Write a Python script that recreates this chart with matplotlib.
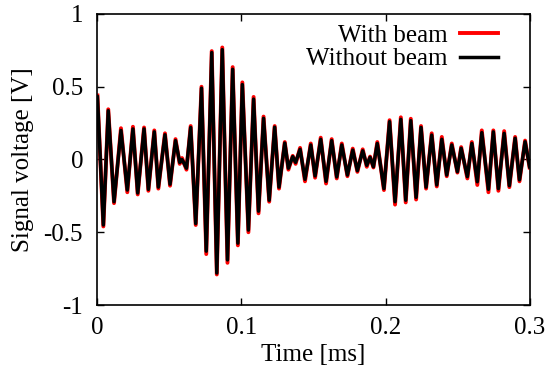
import matplotlib
matplotlib.use("Agg")
import matplotlib.pyplot as plt
from matplotlib.ticker import FuncFormatter

# Extrema of the waveform (time in ms)
time_ms = [0.0003, 0.0044, 0.0078, 0.0118, 0.0166, 0.0210, 0.0249, 0.0282, 0.0326, 0.0356,
           0.0397, 0.0425, 0.0471, 0.0506, 0.0544, 0.0573, 0.0589, 0.0620, 0.0649, 0.0684,
           0.0724, 0.0757, 0.0795, 0.0830, 0.0868, 0.0904, 0.0940, 0.0976, 0.1007, 0.1049,
           0.1085, 0.1119, 0.1154, 0.1193, 0.1231, 0.1261, 0.1301, 0.1326, 0.1356, 0.1376,
           0.1407, 0.1441, 0.1481, 0.1511, 0.1550, 0.1587, 0.1626, 0.1661, 0.1696, 0.1735,
           0.1772, 0.1804, 0.1841, 0.1869, 0.1892, 0.1915, 0.1942, 0.1988, 0.2027, 0.2065,
           0.2105, 0.2139, 0.2174, 0.2211, 0.2245, 0.2280, 0.2319, 0.2354, 0.2389, 0.2423,
           0.2458, 0.2497, 0.2523, 0.2566, 0.2597, 0.2635, 0.2666, 0.2712, 0.2746, 0.2781,
           0.2821, 0.2857, 0.2897, 0.2927, 0.2966, 0.2997]

without_beam = [0.43, -0.45, 0.335, -0.29, 0.20, -0.21, 0.21, -0.23, 0.21, -0.205,
                0.19, -0.19, 0.17, -0.17, 0.13, -0.02, 0.00, -0.06, 0.22, -0.44,
                0.49, -0.63, 0.735, -0.78, 0.755, -0.69, 0.62, -0.575, 0.515, -0.485,
                0.415, -0.355, 0.283, -0.28, 0.222, -0.19, 0.113, -0.06, 0.02, -0.02,
                0.07, -0.136, 0.10, -0.113, 0.139, -0.15, 0.13, -0.12, 0.10, -0.107,
                0.065, -0.077, 0.06, -0.04, 0.015, -0.05, 0.11, -0.20, 0.26, -0.29,
                0.276, -0.28, 0.267, -0.26, 0.22, -0.19, 0.168, -0.175, 0.139, -0.107,
                0.10, -0.084, 0.077, -0.118, 0.11, -0.153, 0.185, -0.205, 0.19, -0.20,
                0.18, -0.18, 0.146, -0.14, 0.122, -0.05]

with_beam = [0.44, -0.46, 0.345, -0.30, 0.215, -0.225, 0.225, -0.24, 0.22, -0.215,
             0.20, -0.20, 0.18, -0.18, 0.14, -0.03, 0.01, -0.07, 0.23, -0.45,
             0.50, -0.65, 0.745, -0.79, 0.77, -0.71, 0.635, -0.59, 0.53, -0.50,
             0.43, -0.37, 0.295, -0.29, 0.23, -0.20, 0.12, -0.07, 0.025, -0.03,
             0.08, -0.15, 0.11, -0.125, 0.15, -0.165, 0.14, -0.13, 0.11, -0.115,
             0.075, -0.085, 0.07, -0.05, 0.02, -0.055, 0.12, -0.21, 0.27, -0.31,
             0.29, -0.295, 0.28, -0.275, 0.23, -0.20, 0.18, -0.185, 0.155, -0.115,
             0.11, -0.09, 0.085, -0.13, 0.12, -0.175, 0.20, -0.225, 0.20, -0.215,
             0.195, -0.19, 0.155, -0.15, 0.13, -0.055]

x_ticks = [0, 0.1, 0.2, 0.3]
y_ticks = [-1, -0.5, 0, 0.5, 1]

plt.rcParams['font.family'] = ['Liberation Serif', 'DejaVu Serif']
plt.rcParams['font.size'] = 18

fig = plt.figure(figsize=(5.45, 3.67), dpi=100)
ax = fig.add_axes([97/545, 1 - 305/367, 433/545, 291/367])

ax.plot(time_ms, with_beam, color='#ff0000', lw=2.8, label='With beam', solid_joinstyle='round')
ax.plot(time_ms, without_beam, color='black', lw=2.5, label='Without beam', solid_joinstyle='round')

ax.set_xlim(0, 0.3)
ax.set_ylim(-1, 1)
ax.set_xticks(x_ticks)
ax.set_yticks(y_ticks)

def fmt(v, pos):
    s = ('%g' % v)
    return s.replace('\u2212', '-')

ax.xaxis.set_major_formatter(FuncFormatter(fmt))
ax.yaxis.set_major_formatter(FuncFormatter(fmt))
ax.tick_params(direction='in', length=5, width=1, top=True, right=True)
ax.tick_params(axis='x', pad=9)
ax.tick_params(axis='y', pad=10)
for sp in ax.spines.values():
    sp.set_linewidth(1.2)

ax.set_xlabel('Time [ms]', labelpad=3)
ax.set_ylabel('Signal voltage [V]', labelpad=7)

leg = ax.legend(loc='upper right', bbox_to_anchor=((497.5 - 97) / 433, 0.965), frameon=False,
                markerfirst=False, handlelength=1.5, handletextpad=0.5,
                labelspacing=0.05, borderaxespad=0.0, borderpad=0.0)

fig.savefig('out.png', dpi=100)
